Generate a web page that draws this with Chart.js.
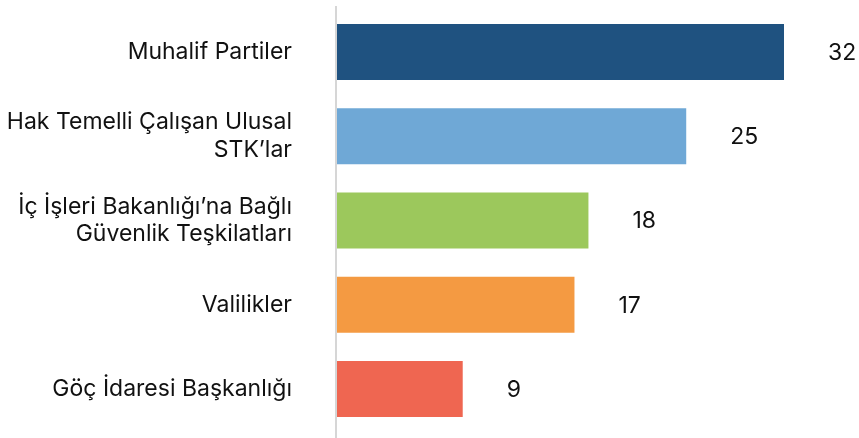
<!DOCTYPE html>
<html lang="tr">
<head>
<meta charset="utf-8">
<style>
  html, body { margin: 0; padding: 0; background: #ffffff; overflow: hidden; }
  canvas { display: block; }
</style>
<script src="https://cdn.jsdelivr.net/npm/chart.js@4/dist/chart.umd.min.js"></script>
</head>
<body>
<canvas id="chart" width="859" height="438"></canvas>
<script>
// Kurum kategorileri (çok satırlı etiketler dizi olarak)
const categories = [
  'Muhalif Partiler',
  ['Hak Temelli Çalışan Ulusal', 'STK’lar'],
  ['İç İşleri Bakanlığı’na Bağlı', 'Güvenlik Teşkilatları'],
  'Valilikler',
  'Göç İdaresi Başkanlığı'
];
const values = [32, 25, 18, 17, 9];
const barColors = ['#1F5280', '#6FA8D6', '#9CC85C', '#F49A42', '#EF6651'];

const FONT = 'Inter, "Noto Sans", "DejaVu Sans", sans-serif';
const FONT_SIZE = 23;

// Değer etiketleri ve dikey eksen çizgisi
const annotate = {
  id: 'annotate',
  afterDatasetsDraw(chart) {
    const { ctx, chartArea } = chart;
    const meta = chart.getDatasetMeta(0);
    ctx.save();
    ctx.font = FONT_SIZE + 'px ' + FONT;
    ctx.fillStyle = '#111111';
    ctx.textAlign = 'left';
    ctx.textBaseline = 'middle';
    meta.data.forEach((bar, i) => {
      ctx.fillText(String(values[i]), bar.x + 44, bar.y + 1);
    });
    ctx.strokeStyle = '#d6d6d6';
    ctx.lineWidth = 2;
    ctx.beginPath();
    ctx.moveTo(chartArea.left - 1, chartArea.top - 4);
    ctx.lineTo(chartArea.left - 1, chartArea.bottom + 7);
    ctx.stroke();
    ctx.restore();
  }
};

new Chart(document.getElementById('chart'), {
  type: 'bar',
  data: {
    labels: categories,
    datasets: [{
      data: values,
      backgroundColor: barColors,
      borderWidth: 0,
      categoryPercentage: 1,
      barPercentage: 0.665
    }]
  },
  options: {
    indexAxis: 'y',
    responsive: false,
    animation: false,
    layout: { padding: { top: 10, right: 75, bottom: 7, left: 0 } },
    plugins: {
      legend: { display: false },
      tooltip: { enabled: false }
    },
    scales: {
      x: {
        min: 0,
        max: 32,
        display: false,
        grid: { display: false }
      },
      y: {
        grid: { display: false },
        border: { display: false },
        afterFit(scale) {
          scale.width = 337;
          scale.paddingTop = 0;
          scale.paddingBottom = 0;
        },
        ticks: {
          padding: 37,
          color: '#111111',
          font: { family: FONT, size: FONT_SIZE, lineHeight: 1.2 }
        }
      }
    }
  },
  plugins: [annotate]
});
</script>
</body>
</html>
